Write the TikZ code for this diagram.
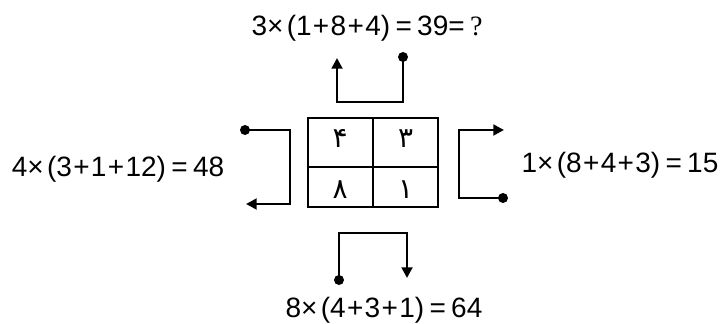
\documentclass[tikz,border=0pt]{standalone}
\usepackage{fontspec}
\setmainfont{Liberation Sans}
\newfontfamily\persianfont[Script=Arabic]{DejaVu Sans}
\newfontfamily\qfont{Liberation Serif}
\usetikzlibrary{arrows.meta}
\newcommand\gp{\hspace{2.5pt}}
\newcommand\eqgap{\hspace{4pt}}
\newcommand\pl{\hspace{1pt}+\hspace{1pt}}

\begin{document}
\begin{tikzpicture}[x=0.75pt,y=-0.75pt,
  eq/.style={font=\fontsize{21}{25}\selectfont, inner sep=0},
  cell/.style={draw, line width=1.5pt, minimum width=49.1pt, inner sep=0,
    font=\persianfont\fontsize{21}{24}\selectfont},
  toprow/.style={cell, minimum height=36.75pt, text depth=6pt},
  botrow/.style={cell, minimum height=30pt, text height=17pt},
  dot/.style={circle, fill, inner sep=0, minimum size=7.5pt},
  conn/.style={line width=2.1pt, -{Triangle[length=8pt,width=8pt]}}]
\useasboundingbox (0,0) rectangle (724,324);
% the table
\node[toprow] (c4) at (340.25,142.5) {۴};
\node[toprow] (c3) at (405.75,142.5) {۳};
\node[botrow] (c8) at (340.25,187)   {۸};
\node[botrow] (c1) at (405.75,187)   {۱};
% top bracket
\node[dot] (td) at (403,57) {};
\coordinate (ta) at (337,58);
\draw[conn] (td.center) -- ++(0,45) -| (ta);
% left bracket
\node[dot] (ld) at (245,130) {};
\coordinate (la) at (246,204);
\draw[conn] (ld.center) -- ++(45,0) |- (la);
% right bracket
\node[dot] (rd) at (503,198) {};
\coordinate (ra) at (504,130);
\draw[conn] (rd.center) -- ++(-44,0) |- (ra);
% bottom bracket
\node[dot] (bd) at (339,280) {};
\coordinate (ba) at (407,278);
\draw[conn] (bd.center) -- ++(0,-47) -| (ba);
% the sums
\node[eq] (qtop)   at (367,28)  {3×\gp(1\pl8\pl4)\eqgap=\eqgap39=\eqgap{\qfont ?}};
\node[eq] (qleft)  at (118,169) {4×\gp(3\pl1\pl12)\eqgap=\eqgap48};
\node[eq] (qright) at (620,165) {1×\gp(8\pl4\pl3)\eqgap=\eqgap15};
\node[eq] (qbot)   at (384,310) {8×\gp(4\pl3\pl1)\eqgap=\eqgap64};
\end{tikzpicture}
\end{document}
